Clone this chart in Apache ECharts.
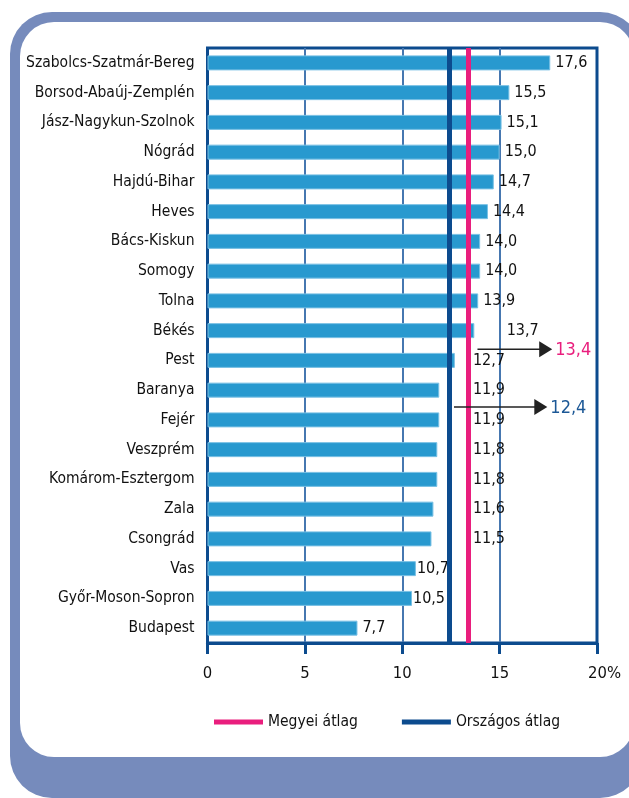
<!DOCTYPE html>
<html>
<head>
<meta charset="utf-8">
<script src="https://cdn.jsdelivr.net/npm/echarts@6/dist/echarts.min.js"></script>
<style>
  html, body { margin: 0; padding: 0; background: #fff; }
  #chart { width: 629px; height: 798px; }
</style>
</head>
<body>
<div id="chart"></div>
<script>
// megyék, felülről lefelé
const categories = [
  'Szabolcs-Szatmár-Bereg', 'Borsod-Abaúj-Zemplén', 'Jász-Nagykun-Szolnok', 'Nógrád',
  'Hajdú-Bihar', 'Heves', 'Bács-Kiskun', 'Somogy', 'Tolna', 'Békés', 'Pest', 'Baranya',
  'Fejér', 'Veszprém', 'Komárom-Esztergom', 'Zala', 'Csongrád', 'Vas',
  'Győr-Moson-Sopron', 'Budapest'
]
const values = [17.6, 15.5, 15.1, 15.0, 14.7, 14.4, 14.0, 14.0, 13.9, 13.7,
  12.7, 11.9, 11.9, 11.8, 11.8, 11.6, 11.5, 10.7, 10.5, 7.7]

// átlagok
const megyeiAtlag = 13.4
const orszagosAtlag = 12.4

const xTicks = [0, 5, 10, 15, 20]

const FONT = "'Liberation Sans Narrow', 'DejaVu Sans Condensed', sans-serif"
const NAVY = '#0c4b8e'
const PINK = '#e91e7d'
const BAR = '#2899cf'

const fmt = v => v.toFixed(1).replace('.', ',')

const chart = echarts.init(document.getElementById('chart'))

const frame = [
  { type: 'rect', z: -10, shape: { x: 10, y: 12, width: 632, height: 786, r: 42 }, style: { fill: '#768bbc' } },
  { type: 'rect', z: -9, shape: { x: 20, y: 22, width: 614, height: 735, r: 34 }, style: { fill: '#fff' } }
]

const option = {
  animation: false,
  textStyle: { fontFamily: FONT },
  graphic: frame,
  grid: {
    left: 207.5, right: 32, top: 48, bottom: 155,
    outerBoundsMode: 'none',
    show: true, borderColor: NAVY, borderWidth: 3
  },
  legend: {
    data: ['Megyei átlag', 'Országos átlag'],
    left: 209, top: 709,
    icon: 'rect', itemWidth: 49, itemHeight: 5, itemGap: 44,
    textStyle: { fontSize: 15.5, color: '#111', fontFamily: FONT }
  },
  xAxis: {
    type: 'value', min: xTicks[0], max: xTicks[xTicks.length - 1], interval: 5,
    axisLine: { show: true, lineStyle: { color: NAVY, width: 3 } },
    axisTick: { show: true, length: 11, lineStyle: { color: NAVY, width: 3 } },
    axisLabel: {
      margin: 22, fontSize: 16.5, color: '#111', fontFamily: FONT,
      formatter: v => v === 20 ? '{pad|}20%' : String(v),
      rich: { pad: { width: 15 } }
    },
    splitLine: { show: true, showMinLine: false, showMaxLine: false, lineStyle: { color: '#4677b0', width: 2 } }
  },
  yAxis: {
    type: 'category', inverse: true, data: categories,
    axisLine: { show: false }, axisTick: { show: false },
    axisLabel: { margin: 13, fontSize: 15.5, color: '#111', fontFamily: FONT }
  },
  series: [
    {
      name: 'Arány', type: 'bar', data: values, barWidth: 15,
      itemStyle: { color: BAR, borderColor: '#78c0e4', borderWidth: 1 },
      label: {
        show: true, position: 'right', distance: 5,
        fontSize: 16, color: '#111', fontFamily: FONT,
        formatter: p => fmt(p.value)
      },
      z: 3
    },
    {
      name: 'Megyei átlag', type: 'line', data: [],
      itemStyle: { color: PINK }, lineStyle: { color: PINK },
      markLine: {
        silent: true, symbol: 'none', label: { show: false },
        lineStyle: { color: PINK, width: 5, type: 'solid' },
        data: [{ xAxis: megyeiAtlag }]
      },
      z: 4
    },
    {
      name: 'Országos átlag', type: 'line', data: [],
      itemStyle: { color: NAVY }, lineStyle: { color: NAVY },
      markLine: {
        silent: true, symbol: 'none', label: { show: false },
        lineStyle: { color: NAVY, width: 5, type: 'solid' },
        data: [{ xAxis: orszagosAtlag }]
      },
      z: 4
    }
  ]
}

chart.setOption(option)

// címkék és nyilak elhelyezése a skála alapján
const px = v => chart.convertToPixel({ xAxisIndex: 0 }, v)
const py = c => chart.convertToPixel({ yAxisIndex: 0 }, c)

const pinkX = px(megyeiAtlag)
const navyX = px(orszagosAtlag)

const barData = values.map(v => {
  const end = px(v) + 5
  let dx = 0
  if (v < megyeiAtlag && v >= 11) dx = pinkX + 4.5 - end          // vonalak mögé
  else if (v >= megyeiAtlag && v - megyeiAtlag < 0.4) dx = px(15) + 7 - end
  else if (v >= 10 && v < 11) dx = -4                              // ne takarja a vonal
  return dx ? { value: v, label: { offset: [dx, 0] } } : v
})

function arrow(x1, x2, y, text, color) {
  return [
    { type: 'line', z: 10, shape: { x1: x1, y1: y, x2: x2 - 10, y2: y }, style: { stroke: '#222', lineWidth: 1.5 } },
    { type: 'polygon', z: 10, shape: { points: [[x2 - 13, y - 8], [x2, y], [x2 - 13, y + 8]] }, style: { fill: '#222' } },
    { type: 'text', z: 10, x: x2 + 3, y: y + 1, style: { text: text, fill: color, fontSize: 18, fontFamily: FONT, verticalAlign: 'middle' } }
  ]
}

const yA = py(categories[9]) + 0.63 * (py(categories[10]) - py(categories[9]))
const yB = py(categories[11]) + 0.57 * (py(categories[12]) - py(categories[11]))

chart.setOption({
  graphic: frame
    .concat(arrow(pinkX + 9, px(17.7), yA, fmt(megyeiAtlag), PINK))
    .concat(arrow(navyX + 5, px(17.45), yB, fmt(orszagosAtlag), '#1c5896')),
  series: [{ data: barData }]
})
</script>
</body>
</html>
